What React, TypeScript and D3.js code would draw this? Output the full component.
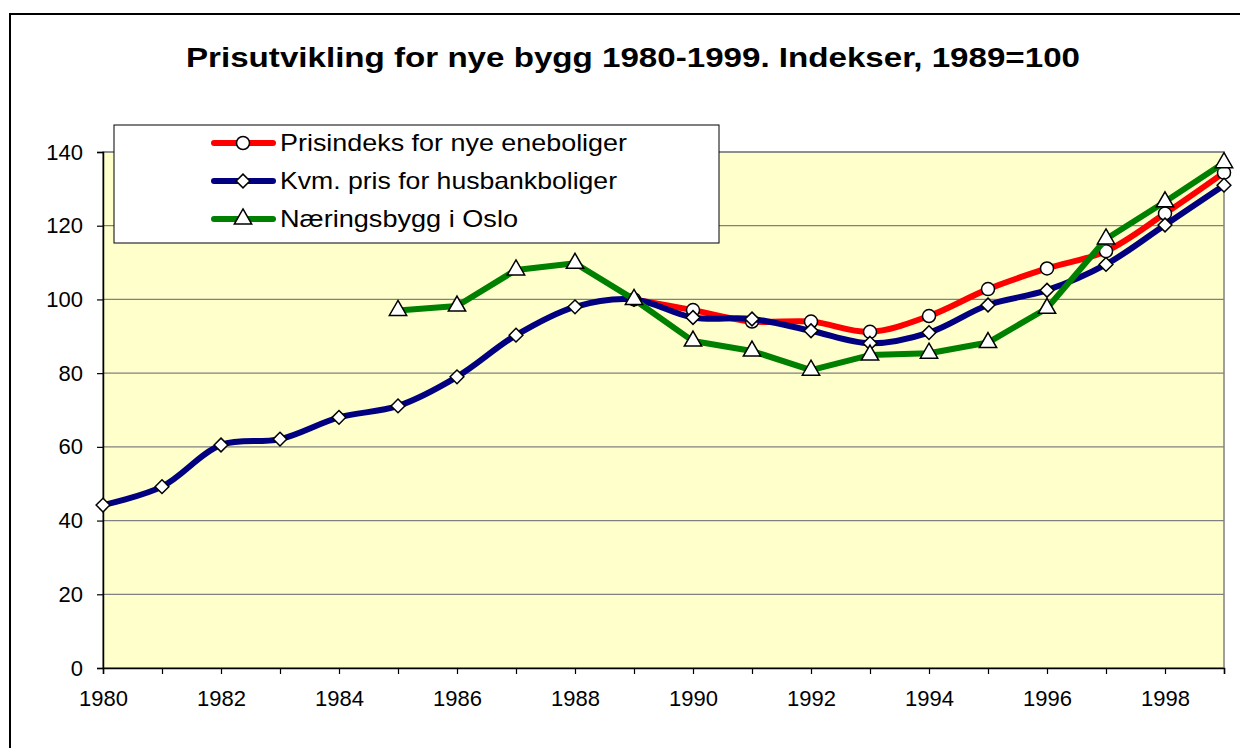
import { useRef, useEffect } from "react";
import * as d3 from "d3";

const years = d3.range(1980, 2000);
const yTicks = [0, 20, 40, 60, 80, 100, 120, 140];
const xTickLabels = [1980, 1982, 1984, 1986, 1988, 1990, 1992, 1994, 1996, 1998];

// Prisindeks for nye eneboliger (from 1989)
const prisYears = d3.range(1989, 2000);
const prisValues = [100, 97.1, 94, 94, 91.2, 95.5, 102.8, 108.4, 113.1, 123.3, 134.4];

// Kvm. pris for husbankboliger
const kvmValues = [44.2, 49.2, 60.5, 62.1, 68, 71.1, 79, 90.3, 98, 100, 95.1, 94.7, 91.5, 88.1, 91, 98.5, 102.5, 109.5, 120.2, 131];

// Næringsbygg i Oslo (from 1985)
const naerYears = d3.range(1985, 2000);
const naerValues = [97, 98.2, 108, 109.8, 100, 88.7, 86, 80.8, 84.9, 85.4, 88.3, 97.6, 116.4, 126.5, 137.1];

const seriesNames = ["Prisindeks for nye eneboliger", "Kvm. pris for husbankboliger", "Næringsbygg i Oslo"];

type Pt = { year: number; value: number };

const App = () => {
  const svgRef = useRef<SVGSVGElement>(null);

  useEffect(() => {
    const svg = d3.select(svgRef.current);
    svg.selectAll("*").remove();

    const left = 103, right = 1224, top = 152, bottom = 668;
    const x = d3.scaleLinear().domain([1980, 1999]).range([left, right]);
    const y = d3.scaleLinear().domain([0, 140]).range([bottom, top]);
    const font = "Arial, 'Liberation Sans', sans-serif";

    // outer frame
    svg.append("rect").attr("x", 10).attr("y", 14).attr("width", 1240).attr("height", 750)
      .attr("fill", "white").attr("stroke", "black").attr("stroke-width", 2);

    svg.append("text").attr("x", 186).attr("y", 67)
      .attr("font-family", font).attr("font-weight", "bold").attr("font-size", 28)
      .attr("textLength", 894).attr("lengthAdjust", "spacingAndGlyphs")
      .text("Prisutvikling for nye bygg 1980-1999. Indekser, 1989=100");

    // plot area
    svg.append("rect").attr("x", left).attr("y", top).attr("width", right - left).attr("height", bottom - top)
      .attr("fill", "#FFFFCC").attr("stroke", "#808080").attr("stroke-width", 1.5);

    svg.append("g").selectAll("line").data(yTicks.slice(1)).join("line")
      .attr("x1", left).attr("x2", right).attr("y1", (d) => y(d)).attr("y2", (d) => y(d))
      .attr("stroke", "#808080").attr("stroke-width", 1.2);

    // axes
    const yAxis = svg.append("g").attr("transform", `translate(${left},0)`)
      .call(d3.axisLeft(y).tickValues(yTicks).tickSize(6).tickPadding(14));
    const xAxis = svg.append("g").attr("transform", `translate(0,${bottom})`)
      .call(d3.axisBottom(x).tickValues(years).tickSize(6).tickPadding(16)
        .tickFormat((d) => (xTickLabels.includes(d as number) ? String(d) : "")));
    [yAxis, xAxis].forEach((g) => {
      g.attr("font-size", 22).attr("font-family", font);
      g.select(".domain").attr("stroke", "black").attr("stroke-width", 1.5);
      g.selectAll(".tick line").attr("stroke", "black").attr("stroke-width", 1.2);
      g.selectAll("text").attr("font-family", font).attr("font-size", 22).attr("fill", "black");
    });

    const prisData: Pt[] = prisYears.map((yr, i) => ({ year: yr, value: prisValues[i] }));
    const kvmData: Pt[] = years.map((yr, i) => ({ year: yr, value: kvmValues[i] }));
    const naerData: Pt[] = naerYears.map((yr, i) => ({ year: yr, value: naerValues[i] }));

    const smooth = d3.line<Pt>().x((d) => x(d.year)).y((d) => y(d.value)).curve(d3.curveCatmullRom.alpha(0.5));
    const straight = d3.line<Pt>().x((d) => x(d.year)).y((d) => y(d.value));

    const diamond = d3.symbol().type(d3.symbolDiamond2).size(120);
    const tri = d3.symbol().type(d3.symbolTriangle).size(130);

    const drawMarker = (g: d3.Selection<SVGGElement, unknown, null, undefined>, cx: number, cy: number, marker: string) => {
      if (marker === "circle") {
        g.append("circle").attr("cx", cx).attr("cy", cy).attr("r", 6.5)
          .attr("fill", "white").attr("stroke", "black").attr("stroke-width", 1.5);
      } else {
        g.append("path").attr("d", marker === "diamond" ? diamond() : tri())
          .attr("transform", `translate(${cx},${cy})`)
          .attr("fill", "white").attr("stroke", "black").attr("stroke-width", 1.5);
      }
    };

    const drawSeries = (data: Pt[], color: string, gen: d3.Line<Pt>, marker: string) => {
      svg.append("path").datum(data).attr("d", gen).attr("fill", "none")
        .attr("stroke", color).attr("stroke-width", 6).attr("stroke-linejoin", "round");
      const g = svg.append("g");
      data.forEach((d) => drawMarker(g, x(d.year), y(d.value), marker));
    };

    drawSeries(prisData, "#FF0000", smooth, "circle");
    drawSeries(kvmData, "#000080", smooth, "diamond");
    drawSeries(naerData, "#008000", straight, "triangle");

    // legend
    const lg = svg.append("g");
    lg.append("rect").attr("x", 114).attr("y", 125).attr("width", 605).attr("height", 118)
      .attr("fill", "white").attr("stroke", "black").attr("stroke-width", 1);
    const legendColors = ["#FF0000", "#000080", "#008000"];
    const legendMarkers = ["circle", "diamond", "triangle"];
    const legendWidths = [347, 337, 238];
    seriesNames.forEach((name, i) => {
      const ly = 143 + i * 38;
      lg.append("line").attr("x1", 214).attr("x2", 273).attr("y1", ly).attr("y2", ly)
        .attr("stroke", legendColors[i]).attr("stroke-width", 6).attr("stroke-linecap", "round");
      drawMarker(lg, 243, ly, legendMarkers[i]);
      lg.append("text").attr("x", 280).attr("y", ly + 8).attr("font-family", font).attr("font-size", 24)
        .attr("textLength", legendWidths[i]).attr("lengthAdjust", "spacingAndGlyphs")
        .text(name);
    });
  }, []);

  return (
    <div style={{ position: "absolute", left: 0, top: 0 }}>
      <svg ref={svgRef} width={1240} height={748} style={{ display: "block" }}></svg>
    </div>
  );
};

export default App;
